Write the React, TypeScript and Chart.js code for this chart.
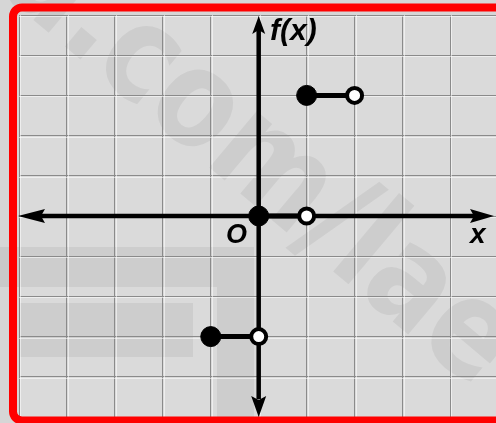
import { useEffect, useRef } from "react";
import { Chart, registerables } from "chart.js";

Chart.register(...registerables);

// ---- data ----
const xTicks = [-5, -4, -3, -2, -1, 0, 1, 2, 3, 4];
const yTicks = [-5, -4, -3, -2, -1, 0, 1, 2, 3, 4, 5];
const stepStarts = [-1, 0, 1]; // closed (filled) ends
const stepEnds = [0, 1, 2]; // open ends
const stepValues = [-3, 0, 3];
const xLabel = "x";
const yLabel = "f(x)";
const originLabel = "O";
const watermarkText = "u.com/lae";

const X_MIN = -5;
const X_MAX = 4.95;
const Y_MIN = -5;
const Y_MAX = 5;

const BG = "#d6d6d6";
const AREA_BG = "#dadada";
const GRID = "#8a8a8a";
const SHADE = "rgba(0,0,0,0.06)";

const decorPlugin = {
  id: "decor",
  beforeDraw(chart: any) {
    const { ctx, chartArea: a, width, height } = chart;
    ctx.save();
    ctx.fillStyle = BG;
    ctx.fillRect(0, 0, width, height);
    ctx.fillStyle = AREA_BG;
    ctx.fillRect(a.left, a.top, a.right - a.left, a.bottom - a.top);
    // faint watermark shapes
    ctx.fillStyle = SHADE;
    ctx.fillRect(0, 247, 217, 40);
    ctx.fillRect(217, 247, 37, a.bottom - 247);
    ctx.fillRect(a.left, 303, 174, 54);
    ctx.font = 'bold 135px "DejaVu Sans Condensed", "DejaVu Sans", sans-serif';
    ctx.textBaseline = "middle";
    ctx.textAlign = "left";
    const pre = ctx.measureText("u.").width + ctx.measureText("c").width / 2;
    const span = ctx.measureText("com/la").width + ctx.measureText("e").width / 2 - ctx.measureText("c").width / 2;
    ctx.translate(138, 62);
    ctx.rotate((40 * Math.PI) / 180);
    const sx = 430 / span;
    ctx.scale(sx, 1);
    ctx.fillText(watermarkText, -pre, 0);
    ctx.restore();
  },
  beforeDatasetsDraw(chart: any) {
    const { ctx, chartArea: a, scales } = chart;
    const xs = scales.x;
    const ys = scales.y;
    ctx.save();
    // light highlight next to grid lines
    ctx.strokeStyle = "rgba(255,255,255,0.55)";
    ctx.lineWidth = 1;
    xTicks.forEach((v) => {
      const px = Math.round(xs.getPixelForValue(v)) + 1.5;
      ctx.beginPath();
      ctx.moveTo(px, a.top);
      ctx.lineTo(px, a.bottom);
      ctx.stroke();
    });
    yTicks.forEach((v) => {
      const py = Math.round(ys.getPixelForValue(v)) + 1.5;
      ctx.beginPath();
      ctx.moveTo(a.left, py);
      ctx.lineTo(a.right, py);
      ctx.stroke();
    });
    // axes
    const x0 = xs.getPixelForValue(0);
    const y0 = ys.getPixelForValue(0);
    ctx.strokeStyle = "#000";
    ctx.fillStyle = "#000";
    ctx.lineWidth = 4.5;
    ctx.beginPath();
    ctx.moveTo(a.left + 20, y0);
    ctx.lineTo(a.right - 20, y0);
    ctx.moveTo(x0, a.top + 15);
    ctx.lineTo(x0, a.bottom - 18);
    ctx.stroke();
    const arrow = (tx: number, ty: number, dx: number, dy: number, len: number, hw: number) => {
      const bx = tx - dx * len;
      const by = ty - dy * len;
      ctx.beginPath();
      ctx.moveTo(tx, ty);
      ctx.lineTo(bx - dy * hw, by + dx * hw);
      ctx.lineTo(bx + dx * 4, by + dy * 4);
      ctx.lineTo(bx + dy * hw, by - dx * hw);
      ctx.closePath();
      ctx.fill();
    };
    arrow(a.left - 1, y0, -1, 0, 27, 7);
    arrow(a.right - 2, y0, 1, 0, 24, 7);
    arrow(x0, a.top + 1, 0, -1, 18, 6.5);
    arrow(x0, a.bottom, 0, 1, 21, 7.5);
    ctx.restore();
  },
  afterDraw(chart: any) {
    const { ctx, width } = chart;
    ctx.save();
    ctx.fillStyle = "#000";
    ctx.textBaseline = "alphabetic";
    ctx.textAlign = "left";
    ctx.font = 'italic bold 30px "Liberation Sans", Arial, sans-serif';
    ctx.fillText(yLabel, 270, 40);
    ctx.font = 'italic bold 28px "Liberation Sans", Arial, sans-serif';
    ctx.fillText(xLabel, 470, 243);
    ctx.font = 'italic bold 27px "Liberation Sans", Arial, sans-serif';
    ctx.fillText(originLabel, 226, 243);
    // red frame (left, top and bottom sides only; right side lies beyond the picture)
    const L = 13, T = 7.5, B = 420.5, R = 9;
    ctx.strokeStyle = "#ff0000";
    ctx.lineWidth = 8;
    ctx.beginPath();
    ctx.moveTo(width + 10, T);
    ctx.lineTo(L + R, T);
    ctx.arcTo(L, T, L, T + R, R);
    ctx.lineTo(L, B - R);
    ctx.arcTo(L, B, L + R, B, R);
    ctx.lineTo(width + 10, B);
    ctx.stroke();
    ctx.restore();
  },
};

export default function App() {
  const ref = useRef<HTMLCanvasElement | null>(null);
  useEffect(() => {
    if (!ref.current) return;
    const datasets = stepStarts.map((s, i) => ({
      label: `step ${i + 1}`,
      data: [
        { x: s, y: stepValues[i] },
        { x: stepEnds[i], y: stepValues[i] },
      ],
      showLine: true,
      borderColor: "#000",
      borderWidth: 5,
      pointRadius: [10, 7.5],
      pointBorderWidth: [1, 4],
      pointBackgroundColor: ["#000", "#fff"],
      pointBorderColor: "#000",
      clip: false as any,
    }));
    const chart = new Chart(ref.current, {
      type: "scatter",
      data: { datasets },
      options: {
        animation: false,
        responsive: false,
        events: [],
        layout: { autoPadding: false, padding: { left: 19, top: 15, right: 0, bottom: 6 } },
        plugins: { legend: { display: false }, tooltip: { enabled: false } },
        scales: {
          x: {
            type: "linear",
            min: X_MIN,
            max: X_MAX,
            afterBuildTicks: (s: any) => {
              s.ticks = xTicks.map((v) => ({ value: v }));
            },
            ticks: { display: false },
            border: { display: false },
            grid: { color: GRID, lineWidth: 1, drawTicks: false },
          },
          y: {
            type: "linear",
            min: Y_MIN,
            max: Y_MAX,
            afterBuildTicks: (s: any) => {
              s.ticks = yTicks.map((v) => ({ value: v }));
            },
            ticks: { display: false },
            border: { display: false },
            grid: { color: GRID, lineWidth: 1, drawTicks: false },
          },
        },
      },
      plugins: [decorPlugin],
    });
    return () => chart.destroy();
  }, []);
  return (
    <div style={{ position: "absolute", left: 0, top: 0, width: 496, height: 423 }}>
      <canvas ref={ref} width={496} height={423} style={{ display: "block" }} />
    </div>
  );
}
